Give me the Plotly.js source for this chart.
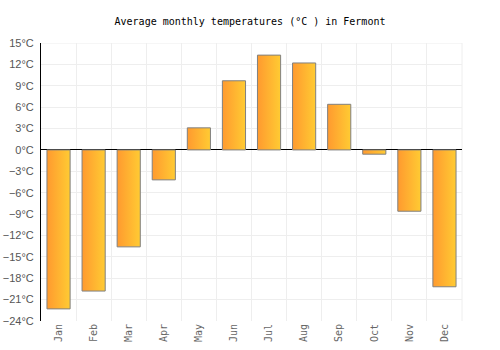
<!DOCTYPE html>
<html>
<head>
<meta charset="utf-8">
<script src="https://cdn.plot.ly/plotly-3.0.1.min.js"></script>
<style>html,body{margin:0;padding:0;background:#fff;}#chart{width:500px;height:350px;}</style>
</head>
<body>
<div id="chart"></div>
<script>
var months = ["Jan","Feb","Mar","Apr","May","Jun","Jul","Aug","Sep","Oct","Nov","Dec"];
var temps = [-22.3, -19.8, -13.6, -4.2, 3.1, 9.7, 13.3, 12.2, 6.4, -0.6, -8.6, -19.2];
var yTicks = [15, 12, 9, 6, 3, 0, -3, -6, -9, -12, -15, -18, -21, -24];
var yTickText = yTicks.map(function(v){ return (v < 0 ? "\u2212" + Math.abs(v) : String(v)) + "°C"; });
var idx = months.map(function(m, i){ return i; });

var trace = {
  type: "bar",
  x: idx,
  y: temps,
  width: 0.66,
  marker: {color: "#ffb030", line: {color: "#808080", width: 1}},
  hoverinfo: "none"
};
var gridTrace = {
  type: "scatter", x: [-0.5, 11.5], y: [null, null], xaxis: "x2", mode: "lines",
  showlegend: false, hoverinfo: "none"
};

var layout = {
  width: 500, height: 350,
  margin: {l: 41, r: 38, t: 43, b: 29},
  paper_bgcolor: "#fff", plot_bgcolor: "#fff",
  showlegend: false,
  title: {text: "Average monthly temperatures (°C ) in Fermont", x: 0.5, xanchor: "center", y: 0.94, yanchor: "middle",
          font: {family: "DejaVu Sans Mono", size: 10, color: "#000"}},
  xaxis: {
    range: [-0.5, 11.5], tickvals: idx, ticktext: months, tickangle: -90,
    showgrid: false, zeroline: false, showline: false, ticks: "",
    tickfont: {family: "DejaVu Sans Mono", size: 10, color: "#666"}, fixedrange: true
  },
  xaxis2: {
    overlaying: "x", range: [-0.5, 11.5], tick0: 0.5, dtick: 1, showticklabels: false,
    showgrid: true, gridcolor: "#eeeeee", gridwidth: 1, zeroline: false, ticks: "", showline: false
  },
  yaxis: {
    range: [-24, 15], tickvals: yTicks, ticktext: yTickText,
    showgrid: true, gridcolor: "#eeeeee", gridwidth: 1,
    zeroline: true, zerolinecolor: "#000", zerolinewidth: 1,
    showline: true, linecolor: "#000", linewidth: 1, ticks: "", ticklabelstandoff: 4,
    tickfont: {family: "Liberation Sans", size: 11, color: "#555"}, fixedrange: true
  },
  shapes: [
    {type: "line", xref: "paper", yref: "y", x0: 0, x1: 1, y0: 15, y1: 15, line: {color: "#eeeeee", width: 1}, layer: "below"},
    {type: "line", xref: "paper", yref: "y", x0: 1, x1: 1, y0: -24, y1: 15, line: {color: "#eeeeee", width: 1}, layer: "below"}
  ]
};

Plotly.newPlot("chart", [gridTrace, trace], layout, {staticPlot: true, displayModeBar: false}).then(function(gd){
  var svg = gd.querySelector("svg.main-svg");
  var ns = "http://www.w3.org/2000/svg";
  var defs = svg.querySelector("defs") || svg.insertBefore(document.createElementNS(ns, "defs"), svg.firstChild);
  var g = document.createElementNS(ns, "linearGradient");
  g.setAttribute("id", "barGrad");
  g.setAttribute("x1", "0"); g.setAttribute("y1", "0"); g.setAttribute("x2", "1"); g.setAttribute("y2", "0");
  [["0", "#ff9a2f"], ["1", "#ffcb33"]].forEach(function(s){
    var st = document.createElementNS(ns, "stop");
    st.setAttribute("offset", s[0]); st.setAttribute("stop-color", s[1]);
    g.appendChild(st);
  });
  defs.appendChild(g);
  gd.querySelectorAll(".barlayer .point path").forEach(function(p){
    p.style.fill = "url(#barGrad)";
  });
});
</script>
</body>
</html>
